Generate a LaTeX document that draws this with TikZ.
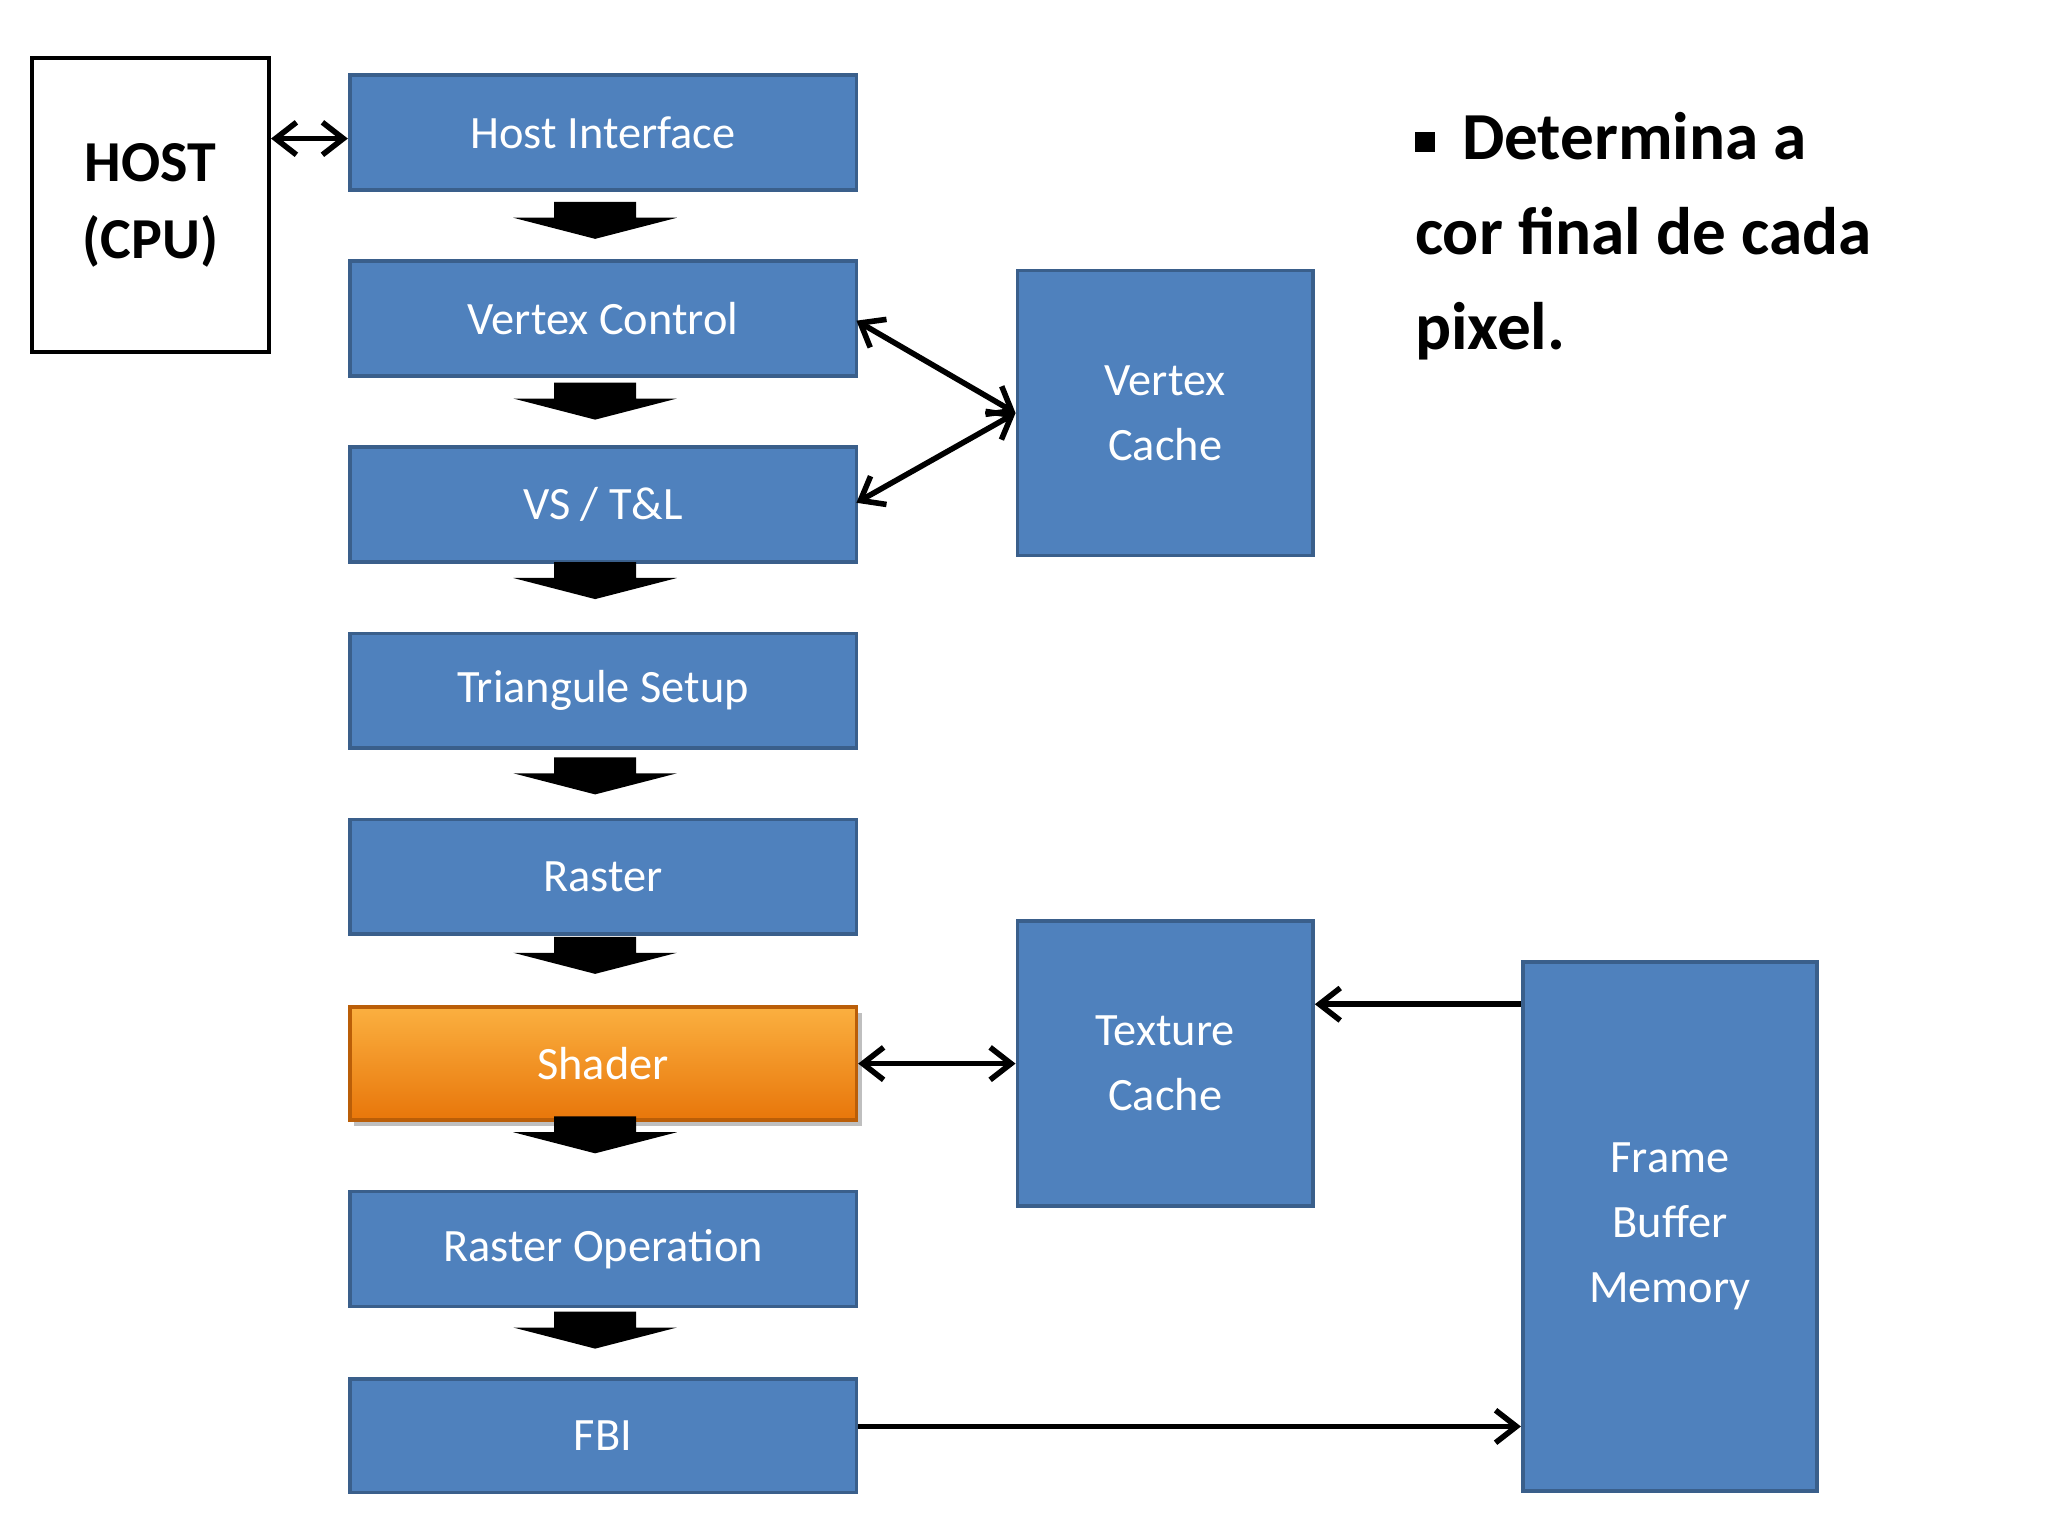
\documentclass[tikz,border=0pt]{standalone}
\usepackage{fontspec}
\setmainfont{Carlito}
\usetikzlibrary{arrows.meta}
\definecolor{bfill}{HTML}{4F81BD}
\definecolor{bdraw}{HTML}{3A5F8B}
\definecolor{otop}{HTML}{FBB040}
\definecolor{obot}{HTML}{E8760A}
\begin{document}
\begin{tikzpicture}[x=0.02cm,y=-0.02cm,
  blk/.style={draw=bdraw,line width=1.6pt,fill=bfill,text=white,font=\fontsize{20}{24}\selectfont,align=center,inner sep=0pt},
  con/.style={line width=2.4pt,-{Straight Barb[length=9pt,width=14pt,line width=2.4pt]}},
  bcon/.style={line width=2.4pt,{Straight Barb[length=9pt,width=14pt,line width=2.4pt]}-{Straight Barb[length=9pt,width=14pt,line width=2.4pt]}},
  darrow/.pic={\fill[black] (-31,0)--(31,0)--(31,12)--(62,12)--(0,28)--(-62,12)--(-31,12)--cycle;}]
\useasboundingbox (0,0) rectangle (1552,1164);
\fill[white] (0,0) rectangle (1552,1164);
\newcommand{\mybox}[6]{\node[blk,minimum width={(#4-#2)*0.02cm},minimum height={(#5-#3)*0.02cm}] (#1) at ({(#2+#4)/2},{(#3+#5)/2}) {#6};}
\mybox{hi}{265}{57}{649}{144}{Host Interface}
\mybox{vc}{265}{198}{649}{285}{Vertex Control}
\mybox{vs}{265}{339}{649}{426}{VS / T\&L}
\mybox{ts}{265}{480}{649}{567}{Triangule Setup}
\mybox{ra}{265}{621}{649}{708}{Raster}
\mybox{ro}{265}{903}{649}{990}{Raster Operation}
\mybox{fbi}{265}{1045}{649}{1131}{FBI}
\mybox{vca}{771}{205}{995}{421}{Vertex\\[4pt]Cache}
\mybox{tca}{771}{698}{995}{914}{Texture\\[4pt]Cache}
\mybox{fbm}{1154}{729}{1377}{1130}{Frame\\[4pt]Buffer\\[4pt]Memory}
\fill[black!25] (268,768) rectangle (653,853);
\node[blk,draw=obot!80!black,top color=otop,bottom color=obot,minimum width=7.68cm,minimum height=1.72cm] (sh) at (457,806) {Shader};
\node[draw=black,line width=1.6pt,minimum width=3.6cm,minimum height=4.46cm,align=center,font=\fontsize{25}{33}\selectfont\bfseries,inner sep=0pt] (host) at (114,155.5) {HOST\\(CPU)};
\foreach \y in {153,290,426,574,710,846,994} \pic at (451,\y) {darrow};
\draw[bcon] (host.east|-0,105) -- (hi.west|-0,105);
\coordinate (vcin) at (770,312);
\draw[bcon] (649,243) -- (vca.west);
\draw[bcon] (649,381) -- (vca.west);
\draw[bcon] (sh.east) -- (tca.west);
\draw[con] (fbm.west|-0,761) -- (tca.east|-0,761);
\draw[con] (fbi.east|-0,1081) -- (fbm.west|-0,1081);
\node[anchor=north west,align=left,font=\fontsize{29}{41}\selectfont\bfseries,inner sep=0pt] (txt) at (1072,85)
 {\makebox[0pt][l]{\raisebox{0.12em}{\rule{0.3em}{0.3em}}}\hspace{0.7em}Determina a\\cor final de cada\\pixel.};
\end{tikzpicture}
\end{document}
